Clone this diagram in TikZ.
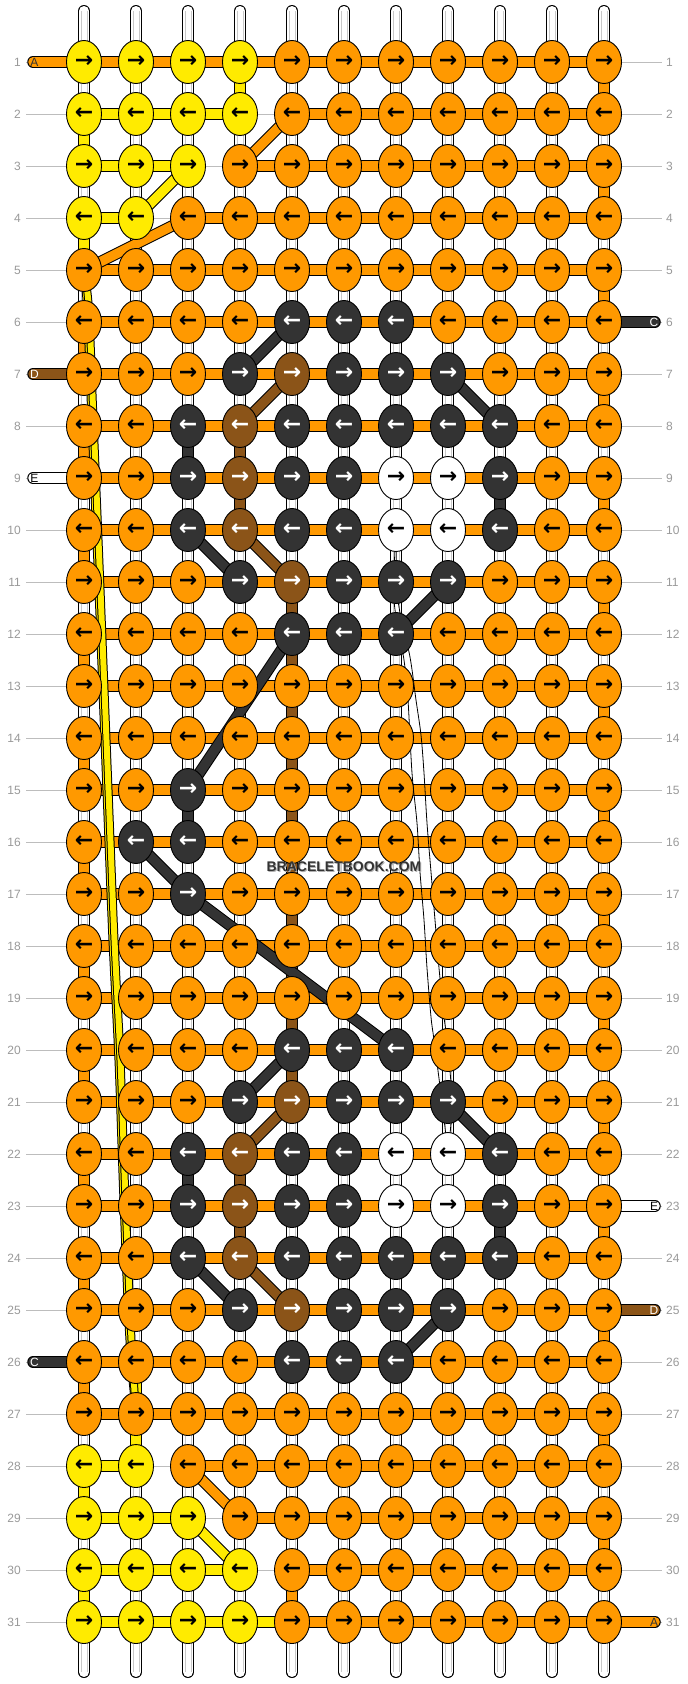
\documentclass[tikz,border=0pt]{standalone}
\usepackage{fontspec}
\setmainfont{Liberation Sans}
\newfontfamily\arrowfont{DejaVu Sans}
\usetikzlibrary{shapes.geometric}
\pgfdeclarelayer{threads}
\pgfdeclarelayer{bars}
\pgfdeclarelayer{diags}
\pgfdeclarelayer{front}
\pgfsetlayers{threads,bars,diags,main,front}
\definecolor{cO}{HTML}{FF9900}
\definecolor{cY}{HTML}{FFEB00}
\definecolor{cK}{HTML}{333333}
\definecolor{cB}{HTML}{8B5418}
\definecolor{cW}{HTML}{FFFFFF}
\colorlet{tO}{black}
\colorlet{tY}{black}
\colorlet{tW}{black}
\colorlet{tK}{white}
\colorlet{tB}{white}
\definecolor{guide}{HTML}{BDBDBD}
\definecolor{labgrey}{HTML}{999999}
\definecolor{tgrey}{HTML}{C8C8C8}
\definecolor{wmshadow}{HTML}{B0B0B0}
\tikzset{
  knot/.style={ellipse, draw=black, line width=0.9pt, minimum width=35pt, minimum height=43pt, inner sep=0pt, font=\arrowfont\bfseries\fontsize{22}{22}\selectfont},
  tbar/.style={draw=black, line width=1pt, double=#1, double distance=9.5pt},
  stub/.style={tbar=#1, line cap=round},
  ythread/.style={draw=black, line width=1pt, double=cY, double distance=6pt},
  fineline/.style={draw=black, line width=0.8pt},
  guideline/.style={draw=guide, line width=1pt},
  rowlab/.style={text=labgrey, font=\fontsize{12}{12}\selectfont, inner sep=0pt},
  stublab/.style={font=\fontsize{12}{12}\selectfont, inner sep=0pt},
  wmark/.style={font=\bfseries\fontsize{14}{14}\selectfont, inner sep=0pt},
}
\begin{document}
\begin{tikzpicture}[x=1pt,y=-1pt]
\useasboundingbox (0,0) rectangle (688,1684);

% ---------------- knots ----------------
\foreach \r/\cols in {
 1/{Y,Y,Y,Y,O,O,O,O,O,O,O},
 2/{Y,Y,Y,Y,O,O,O,O,O,O,O},
 3/{Y,Y,Y,O,O,O,O,O,O,O,O},
 4/{Y,Y,O,O,O,O,O,O,O,O,O},
 5/{O,O,O,O,O,O,O,O,O,O,O},
 6/{O,O,O,O,K,K,K,O,O,O,O},
 7/{O,O,O,K,B,K,K,K,O,O,O},
 8/{O,O,K,B,K,K,K,K,K,O,O},
 9/{O,O,K,B,K,K,W,W,K,O,O},
 10/{O,O,K,B,K,K,W,W,K,O,O},
 11/{O,O,O,K,B,K,K,K,O,O,O},
 12/{O,O,O,O,K,K,K,O,O,O,O},
 13/{O,O,O,O,O,O,O,O,O,O,O},
 14/{O,O,O,O,O,O,O,O,O,O,O},
 15/{O,O,K,O,O,O,O,O,O,O,O},
 16/{O,K,K,O,O,O,O,O,O,O,O},
 17/{O,O,K,O,O,O,O,O,O,O,O},
 18/{O,O,O,O,O,O,O,O,O,O,O},
 19/{O,O,O,O,O,O,O,O,O,O,O},
 20/{O,O,O,O,K,K,K,O,O,O,O},
 21/{O,O,O,K,B,K,K,K,O,O,O},
 22/{O,O,K,B,K,K,W,W,K,O,O},
 23/{O,O,K,B,K,K,W,W,K,O,O},
 24/{O,O,K,B,K,K,K,K,K,O,O},
 25/{O,O,O,K,B,K,K,K,O,O,O},
 26/{O,O,O,O,K,K,K,O,O,O,O},
 27/{O,O,O,O,O,O,O,O,O,O,O},
 28/{Y,Y,O,O,O,O,O,O,O,O,O},
 29/{Y,Y,Y,O,O,O,O,O,O,O,O},
 30/{Y,Y,Y,Y,O,O,O,O,O,O,O},
 31/{Y,Y,Y,Y,O,O,O,O,O,O,O}}{
  \ifodd\r\relax\gdef\arr{→}\else\gdef\arr{←}\fi
  \foreach \k [count=\c] in \cols {
    \node[knot, fill=c\k, text=t\k] (k\r-\c) at ({84+52*(\c-1)},{62+52*(\r-1)}) {\arr};
  }
}

% ---------------- row labels and guide lines ----------------
\foreach \r in {1,...,31}{
  \pgfmathsetmacro\yy{62+52*(\r-1)}
  \coordinate (gl\r) at (26,\yy);
  \coordinate (gr\r) at (662,\yy);
  \node[rowlab, anchor=east] (ll\r) at (21,\yy) {\r};
  \node[rowlab, anchor=west] (rl\r) at (666,\yy) {\r};
  \begin{pgfonlayer}{threads}
    \draw[guideline] (gl\r) -- (gr\r);
  \end{pgfonlayer}
}

% ---------------- vertical base threads ----------------
\foreach \c in {1,...,11}{
  \pgfmathsetmacro\xx{84+52*(\c-1)}
  \coordinate (vt\c) at (\xx,11);
  \coordinate (vb\c) at (\xx,1672);
  \begin{pgfonlayer}{threads}
    \draw[line width=12pt, line cap=round] (vt\c) -- (vb\c);
    \draw[white, line width=10pt, line cap=round] (vt\c) -- (vb\c);
    \draw[tgrey, line width=1pt] ([xshift=-3pt]vt\c) -- ([xshift=-3pt]vb\c);
    \draw[tgrey, line width=1pt] ([xshift=3pt]vt\c) -- ([xshift=3pt]vb\c);
  \end{pgfonlayer}
}

% ---------------- horizontal bars ----------------
\begin{pgfonlayer}{bars}
\foreach \r/\ya/\ob in {1/0/1,2/3/5,3/2/4,4/1/3,28/1/3,29/2/4,30/3/5,31/4/5}{
  \ifnum\ya>0
    \foreach \c in {1,...,\ya}{
      \pgfmathtruncatemacro\cn{\c+1}
      \draw[tbar=cY] (k\r-\c.center) -- (k\r-\cn.center);
    }
  \fi
  \foreach \c in {\ob,...,10}{
    \pgfmathtruncatemacro\cn{\c+1}
    \draw[tbar=cO] (k\r-\c.center) -- (k\r-\cn.center);
  }
}
\foreach \r in {5,...,27}{
  \foreach \c in {1,...,10}{
    \pgfmathtruncatemacro\cn{\c+1}
    \draw[tbar=cO] (k\r-\c.center) -- (k\r-\cn.center);
  }
}
% ---------------- vertical coloured links ----------------
\foreach \r/\c/\col in {1/4/cY,2/1/cY,4/1/cY,26/2/cY,27/2/cY,28/1/cY,30/1/cY,30/5/cO,
  8/3/cK,9/9/cK,15/3/cK,22/3/cK,23/9/cK,
  8/4/cB,9/4/cB,22/4/cB,23/4/cB,
  11/5/cB,12/5/cB,13/5/cB,14/5/cB,15/5/cB,16/5/cB,17/5/cB,18/5/cB,19/5/cB,20/5/cB}{
  \pgfmathtruncatemacro\rn{\r+1}
  \draw[tbar=\col] (k\r-\c.center) -- (k\rn-\c.center);
}
\foreach \r in {1,3,...,29}{
  \pgfmathtruncatemacro\rn{\r+1}
  \draw[tbar=cO] (k\r-11.center) -- (k\rn-11.center);
}
\foreach \r in {6,8,...,26}{
  \pgfmathtruncatemacro\rn{\r+1}
  \draw[tbar=cO] (k\r-1.center) -- (k\rn-1.center);
}
% ---------------- stubs (loose thread ends) ----------------
\foreach \r/\col in {1/cO,7/cB,9/cW,26/cK}{
  \pgfmathsetmacro\yy{62+52*(\r-1)}
  \coordinate (sl\r) at (33,\yy);
  \draw[stub=\col] (sl\r) -- (k\r-1.center);
}
\foreach \r/\col in {6/cK,23/cW,25/cB,31/cO}{
  \pgfmathsetmacro\yy{62+52*(\r-1)}
  \coordinate (sr\r) at (655,\yy);
  \draw[stub=\col] (k\r-11.center) -- (sr\r);
}
\end{pgfonlayer}

% ---------------- diagonals and carried threads ----------------
\begin{pgfonlayer}{diags}
\foreach \ra/\ca/\rb/\cb/\col in {2/5/3/4/cO,4/3/5/1/cO,28/3/29/4/cO,
  3/3/4/2/cY,29/3/30/4/cY,
  6/5/7/4/cK,7/8/8/9/cK,10/3/11/4/cK,11/8/12/7/cK,12/5/15/3/cK,16/2/17/3/cK,17/3/20/7/cK,
  20/5/21/4/cK,21/8/22/9/cK,24/3/25/4/cK,25/8/26/7/cK,
  7/5/8/4/cB,10/4/11/5/cB,21/5/22/4/cB,24/4/25/5/cB}{
  \draw[tbar=\col] (k\ra-\ca.center) -- (k\rb-\cb.center);
}
% two yellow threads carried down the left edge
\draw[ythread] plot[smooth, tension=0.55] coordinates {(k5-1.center) (87,310) (91.5,420) (96.5,540) (100.5,640) (106.5,790) (112.5,940) (118.5,1060) (123.5,1200) (129.5,1340) (k27-2.center)};
\draw[ythread] plot[smooth, tension=0.55] coordinates {(k5-1.center) (89,310) (93.5,420) (98.5,540) (102.5,640) (108.5,790) (114.5,940) (120.5,1060) (125.5,1200) (131.5,1340) (k27-2.center)};
% thin carried white thread
\draw[fineline] plot[smooth, tension=0.5] coordinates {(k10-7.center) (394,600) (404,660) (408,700) (412,773) (417,823) (420,872) (424,920) (427,968) (431,1017) (434,1040) (442,1102) (k22-8.center)};
\draw[fineline] plot[smooth, tension=0.5] coordinates {(k10-7.center) (398,600) (410,657) (416,700) (421,735) (424,773) (427,823) (431,872) (435,920) (439,968) (444,1017) (447,1040) (452,1102) (k22-8.center)};
\end{pgfonlayer}

% ---------------- stub letters ----------------
\node[stublab, text=cK] (la1) at (34.5,62) {A};
\node[stublab, text=white] (la7) at (34.5,374) {D};
\node[stublab, text=black] (la9) at (34.5,478) {E};
\node[stublab, text=white] (la26) at (34.5,1362) {C};
\node[stublab, text=white] (ra6) at (654,322) {C};
\node[stublab, text=black] (ra23) at (654,1206) {E};
\node[stublab, text=white] (ra25) at (654,1310) {D};
\node[stublab, text=cK] (ra31) at (654,1622) {A};

% ---------------- watermark ----------------
\begin{pgfonlayer}{front}
\node[wmark, text=wmshadow] (wms) at (345,868) {BRACELETBOOK.COM};
\node[wmark, text=cK] (wm) at (344,867) {BRACELETBOOK.COM};
\end{pgfonlayer}
\end{tikzpicture}
\end{document}
